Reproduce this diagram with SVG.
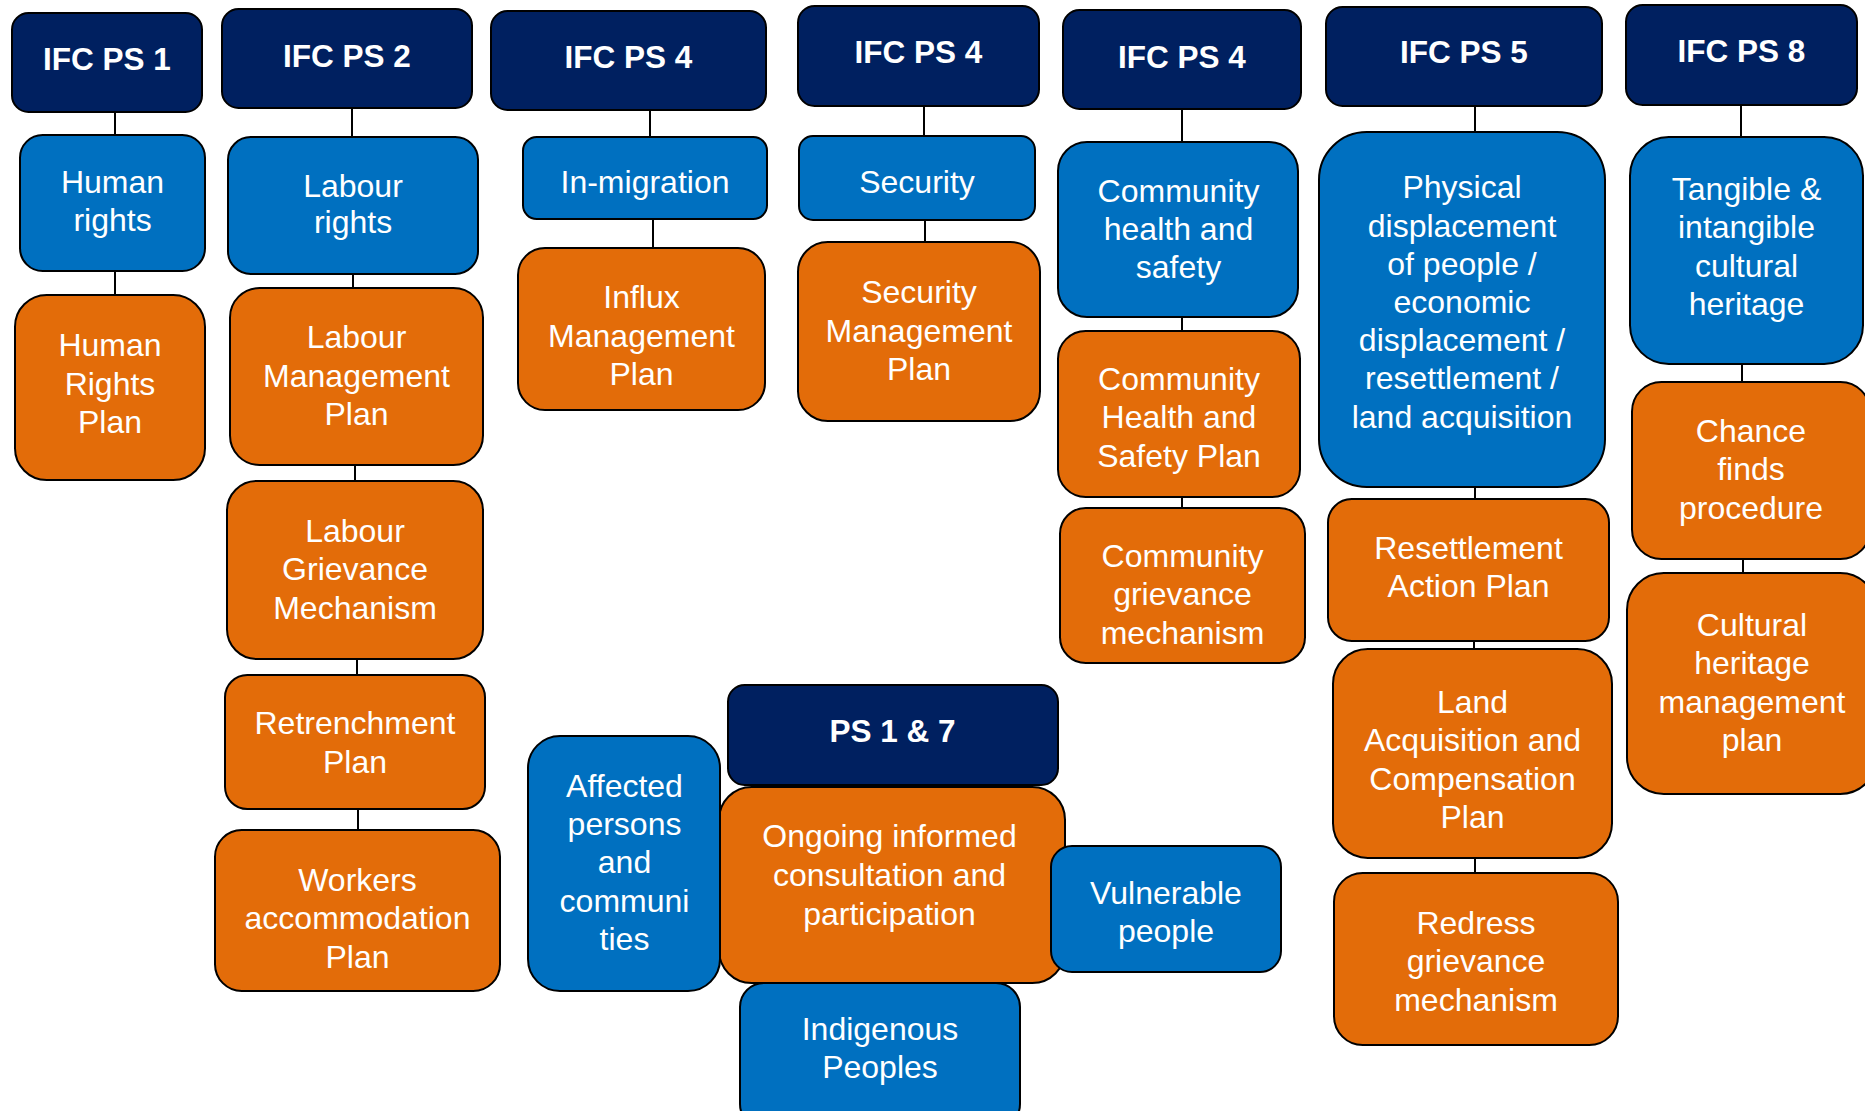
<svg xmlns="http://www.w3.org/2000/svg" width="1865" height="1111" viewBox="0 0 1865 1111">
  <style>
    .box { stroke: #000; stroke-width: 2; }
    .hdr { fill: #002060; }
    .topic { fill: #0070C0; }
    .plan { fill: #E36C09; }
    .lbl { font-family: "Liberation Sans", Arial, sans-serif; font-size: 32px; fill: #fff; text-anchor: middle; }
    .hdr-t { font-weight: bold; font-size: 31.5px; }
    .link { stroke: #000; stroke-width: 2; fill: none; }
  </style>
  <rect width="1865" height="1111" fill="#fff"/>

  <!-- connectors -->
  <g id="connectors">
    <line class="link" x1="115" y1="112" x2="115" y2="135"/>
    <line class="link" x1="115" y1="271" x2="115" y2="295"/>
    <line class="link" x1="352" y1="108" x2="352" y2="137"/>
    <line class="link" x1="353" y1="274" x2="353" y2="288"/>
    <line class="link" x1="355" y1="465" x2="355" y2="481"/>
    <line class="link" x1="357" y1="659" x2="357" y2="675"/>
    <line class="link" x1="358" y1="809" x2="358" y2="830"/>
    <line class="link" x1="650" y1="110" x2="650" y2="137"/>
    <line class="link" x1="653" y1="219" x2="653" y2="248"/>
    <line class="link" x1="924" y1="106" x2="924" y2="136"/>
    <line class="link" x1="925" y1="220" x2="925" y2="242"/>
    <line class="link" x1="1182" y1="109" x2="1182" y2="142"/>
    <line class="link" x1="1182" y1="317" x2="1182" y2="331"/>
    <line class="link" x1="1182" y1="497" x2="1182" y2="508"/>
    <line class="link" x1="1475" y1="106" x2="1475" y2="132"/>
    <line class="link" x1="1475" y1="487" x2="1475" y2="499"/>
    <line class="link" x1="1474" y1="641" x2="1474" y2="649"/>
    <line class="link" x1="1475" y1="858" x2="1475" y2="873"/>
    <line class="link" x1="1741" y1="105" x2="1741" y2="137"/>
    <line class="link" x1="1742" y1="364" x2="1742" y2="382"/>
    <line class="link" x1="1743" y1="559" x2="1743" y2="573"/>
  </g>

  <!-- IFC PS 1 column -->
  <g id="ps1">
    <rect class="box hdr" x="12" y="13" width="190" height="99" rx="16.5"/>
    <text class="lbl hdr-t" x="107" y="70">IFC PS 1</text>
  </g>
  <g id="human-rights">
    <rect class="box topic" x="20" y="135" width="185" height="136" rx="22.7"/>
    <text class="lbl" x="112.5"><tspan x="112.5" y="193.3">Human</tspan><tspan x="112.5" y="231">rights</tspan></text>
  </g>
  <g id="human-rights-plan">
    <rect class="box plan" x="15" y="295" width="190" height="185" rx="31.7"/>
    <text class="lbl"><tspan x="110" y="356">Human</tspan><tspan x="110" y="394.5">Rights</tspan><tspan x="110" y="433">Plan</tspan></text>
  </g>

  <!-- IFC PS 2 column -->
  <g id="ps2">
    <rect class="box hdr" x="222" y="9" width="250" height="99" rx="16.5"/>
    <text class="lbl hdr-t" x="347" y="66.7">IFC PS 2</text>
  </g>
  <g id="labour-rights">
    <rect class="box topic" x="228" y="137" width="250" height="137" rx="22.8"/>
    <text class="lbl"><tspan x="353" y="196.7">Labour</tspan><tspan x="353" y="233.3">rights</tspan></text>
  </g>
  <g id="labour-management-plan">
    <rect class="box plan" x="230" y="288" width="253" height="177" rx="29.5"/>
    <text class="lbl"><tspan x="356.5" y="348.3">Labour</tspan><tspan x="356.5" y="386.7">Management</tspan><tspan x="356.5" y="425">Plan</tspan></text>
  </g>
  <g id="labour-grievance">
    <rect class="box plan" x="227" y="481" width="256" height="178" rx="29.7"/>
    <text class="lbl"><tspan x="355" y="541.5">Labour</tspan><tspan x="355" y="580">Grievance</tspan><tspan x="355" y="618.5">Mechanism</tspan></text>
  </g>
  <g id="retrenchment-plan">
    <rect class="box plan" x="225" y="675" width="260" height="134" rx="22.3"/>
    <text class="lbl"><tspan x="355" y="734.3">Retrenchment</tspan><tspan x="355" y="773">Plan</tspan></text>
  </g>
  <g id="workers-accommodation">
    <rect class="box plan" x="215" y="830" width="285" height="161" rx="26.8"/>
    <text class="lbl"><tspan x="357.5" y="890.9">Workers</tspan><tspan x="357.5" y="929.3">accommodation</tspan><tspan x="357.5" y="967.7">Plan</tspan></text>
  </g>

  <!-- IFC PS 4: in-migration -->
  <g id="ps4-influx">
    <rect class="box hdr" x="491" y="11" width="275" height="99" rx="16.5"/>
    <text class="lbl hdr-t" x="628.5" y="67.7">IFC PS 4</text>
  </g>
  <g id="in-migration">
    <rect class="box topic" x="523" y="137" width="244" height="82" rx="13.7"/>
    <text class="lbl" x="645" y="193.3">In-migration</text>
  </g>
  <g id="influx-plan">
    <rect class="box plan" x="518" y="248" width="247" height="162" rx="27"/>
    <text class="lbl"><tspan x="641.5" y="308.3">Influx</tspan><tspan x="641.5" y="346.7">Management</tspan><tspan x="641.5" y="385">Plan</tspan></text>
  </g>

  <!-- IFC PS 4: security -->
  <g id="ps4-security">
    <rect class="box hdr" x="798" y="6" width="241" height="100" rx="16.7"/>
    <text class="lbl hdr-t" x="918.5" y="63.3">IFC PS 4</text>
  </g>
  <g id="security">
    <rect class="box topic" x="799" y="136" width="236" height="84" rx="14"/>
    <text class="lbl" x="917" y="192.7">Security</text>
  </g>
  <g id="security-plan">
    <rect class="box plan" x="798" y="242" width="242" height="179" rx="29.8"/>
    <text class="lbl"><tspan x="919" y="303.3">Security</tspan><tspan x="919" y="341.7">Management</tspan><tspan x="919" y="380">Plan</tspan></text>
  </g>

  <!-- IFC PS 4: community health and safety -->
  <g id="ps4-community">
    <rect class="box hdr" x="1063" y="10" width="238" height="99" rx="16.5"/>
    <text class="lbl hdr-t" x="1182" y="67.7">IFC PS 4</text>
  </g>
  <g id="community-hs">
    <rect class="box topic" x="1058" y="142" width="240" height="175" rx="29"/>
    <text class="lbl"><tspan x="1178.5" y="201.7">Community</tspan><tspan x="1178.5" y="240">health and</tspan><tspan x="1178.5" y="278.4">safety</tspan></text>
  </g>
  <g id="community-hs-plan">
    <rect class="box plan" x="1058" y="331" width="242" height="166" rx="27.7"/>
    <text class="lbl"><tspan x="1179" y="390">Community</tspan><tspan x="1179" y="428.4">Health and</tspan><tspan x="1179" y="466.8">Safety Plan</tspan></text>
  </g>
  <g id="community-grievance">
    <rect class="box plan" x="1060" y="508" width="245" height="155" rx="25.8"/>
    <text class="lbl"><tspan x="1182.5" y="567">Community</tspan><tspan x="1182.5" y="605.4">grievance</tspan><tspan x="1182.5" y="643.8">mechanism</tspan></text>
  </g>

  <!-- IFC PS 5 column -->
  <g id="ps5">
    <rect class="box hdr" x="1326" y="7" width="276" height="99" rx="16.5"/>
    <text class="lbl hdr-t" x="1464" y="63.3">IFC PS 5</text>
  </g>
  <g id="displacement">
    <rect class="box topic" x="1319" y="132" width="286" height="355" rx="47.7"/>
    <text class="lbl"><tspan x="1462" y="198.3">Physical</tspan><tspan x="1462" y="236.5">displacement</tspan><tspan x="1462" y="274.7">of people /</tspan><tspan x="1462" y="312.9">economic</tspan><tspan x="1462" y="351.1">displacement /</tspan><tspan x="1462" y="389.3">resettlement /</tspan><tspan x="1462" y="427.5">land acquisition</tspan></text>
  </g>
  <g id="resettlement-plan">
    <rect class="box plan" x="1328" y="499" width="281" height="142" rx="23.7"/>
    <text class="lbl"><tspan x="1468.5" y="558.8">Resettlement</tspan><tspan x="1468.5" y="597.3">Action Plan</tspan></text>
  </g>
  <g id="land-acquisition-plan">
    <rect class="box plan" x="1333" y="649" width="279" height="209" rx="34.8"/>
    <text class="lbl"><tspan x="1472.5" y="712.7">Land</tspan><tspan x="1472.5" y="751.1">Acquisition and</tspan><tspan x="1472.5" y="789.5">Compensation</tspan><tspan x="1472.5" y="828">Plan</tspan></text>
  </g>
  <g id="redress-grievance">
    <rect class="box plan" x="1334" y="873" width="284" height="172" rx="28.7"/>
    <text class="lbl"><tspan x="1476" y="933.8">Redress</tspan><tspan x="1476" y="972.3">grievance</tspan><tspan x="1476" y="1010.7">mechanism</tspan></text>
  </g>

  <!-- IFC PS 8 column -->
  <g id="ps8">
    <rect class="box hdr" x="1626" y="5" width="231" height="100" rx="16.7"/>
    <text class="lbl hdr-t" x="1741.5" y="62.3">IFC PS 8</text>
  </g>
  <g id="cultural-heritage">
    <rect class="box topic" x="1630" y="137" width="233" height="227" rx="38.8"/>
    <text class="lbl"><tspan x="1746.5" y="200">Tangible &amp;</tspan><tspan x="1746.5" y="238.3">intangible</tspan><tspan x="1746.5" y="276.7">cultural</tspan><tspan x="1746.5" y="315">heritage</tspan></text>
  </g>
  <g id="chance-finds">
    <rect class="box plan" x="1632" y="382" width="238" height="177" rx="29.5"/>
    <text class="lbl"><tspan x="1751" y="441.7">Chance</tspan><tspan x="1751" y="480">finds</tspan><tspan x="1751" y="518.5">procedure</tspan></text>
  </g>
  <g id="heritage-plan">
    <rect class="box plan" x="1627" y="573" width="250" height="221" rx="36.8"/>
    <text class="lbl"><tspan x="1752" y="635.8">Cultural</tspan><tspan x="1752" y="674.2">heritage</tspan><tspan x="1752" y="712.7">management</tspan><tspan x="1752" y="751">plan</tspan></text>
  </g>

  <!-- PS 1 & 7 cluster -->
  <g id="ps1-7">
    <rect class="box hdr" x="728" y="685" width="330" height="100" rx="16.7"/>
    <text class="lbl hdr-t" x="892.5" y="741.7">PS 1 &amp; 7</text>
  </g>
  <g id="consultation">
    <rect class="box plan" x="719" y="787" width="346" height="196" rx="32.7"/>
    <text class="lbl"><tspan x="889.5" y="847.3">Ongoing informed</tspan><tspan x="889.5" y="886">consultation and</tspan><tspan x="889.5" y="925">participation</tspan></text>
  </g>
  <g id="affected-persons">
    <rect class="box topic" x="528" y="736" width="192" height="255" rx="32"/>
    <text class="lbl"><tspan x="624.5" y="796.7">Affected</tspan><tspan x="624.5" y="835">persons</tspan><tspan x="624.5" y="873.3">and</tspan><tspan x="624.5" y="911.7">communi</tspan><tspan x="624.5" y="950">ties</tspan></text>
  </g>
  <g id="vulnerable-people">
    <rect class="box topic" x="1051" y="846" width="230" height="126" rx="21"/>
    <text class="lbl"><tspan x="1166" y="904">Vulnerable</tspan><tspan x="1166" y="941.7">people</tspan></text>
  </g>
  <g id="indigenous-peoples">
    <rect class="box topic" x="740" y="983" width="280" height="145" rx="24"/>
    <text class="lbl"><tspan x="880" y="1040">Indigenous</tspan><tspan x="880" y="1078.3">Peoples</tspan></text>
  </g>
</svg>
